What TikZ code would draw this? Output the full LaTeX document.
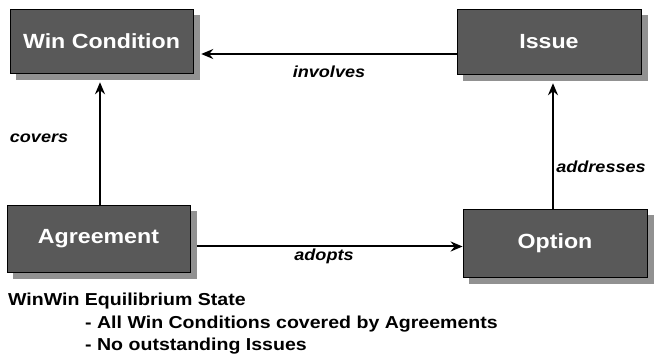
\documentclass[tikz,border=0pt]{standalone}
\usepackage{fontspec}
\newfontfamily\arialx[FakeStretch=1.13]{Liberation Sans}
\usetikzlibrary{arrows.meta}
\definecolor{boxfill}{RGB}{89,89,89}
\definecolor{shadowgray}{RGB}{145,145,145}
\tikzset{
  entity/.style={draw=black, line width=0.8pt, fill=boxfill, minimum width=183pt,
    text=white, font=\arialx\bfseries\fontsize{20.5}{24}\selectfont, inner sep=0pt},
  shadowbox/.style={draw=shadowgray, line width=0.5pt, fill=shadowgray, inner sep=0pt},
  rel/.style={font=\arialx\bfseries\itshape\fontsize{16}{19}\selectfont, inner sep=0pt},
  note/.style={font=\arialx\bfseries\fontsize{17.3}{20}\selectfont, anchor=base west, inner sep=0pt},
  arr/.style={line width=2pt, -{Stealth[length=12pt,width=10pt,inset=4pt]}}
}
\begin{document}
\begin{tikzpicture}[x=1pt,y=-1pt]
\useasboundingbox (0,0) rectangle (665,358);
\node[shadowbox, minimum width=183pt, minimum height=64pt] (winS) at (108,47.5) {};
\node[shadowbox, minimum width=184pt, minimum height=65pt] (issueS) at (555.5,48) {};
\node[shadowbox, minimum width=183pt, minimum height=67pt] (agreeS) at (105,245) {};
\node[shadowbox, minimum width=184pt, minimum height=68pt] (optionS) at (561.5,249.5) {};
\node[entity, minimum height=64pt] (win) at (101.5,41) {Win Condition};
\node[entity, minimum width=184pt, minimum height=65pt] (issue) at (549,41.5) {Issue};
\node[entity, minimum height=67pt] (agree) at (98.5,238.5) {Agreement};
\node[entity, minimum width=184pt, minimum height=68pt] (option) at (555,243) {Option};

\draw[arr, shorten >=1.5pt] ([yshift=-12.5pt]issue.west) -- ([yshift=-12.5pt]issue.west -| winS.east);
\draw[arr, shorten >=2.5pt] ([xshift=1.5pt]agree.north) -- ([xshift=1.5pt]agree.north |- winS.south);
\draw[arr, shorten >=2.5pt] ([xshift=-2pt]option.north) -- ([xshift=-2pt]option.north |- issueS.south);
\draw[arr] ([yshift=-1.5pt]agreeS.east) -- ([yshift=-1.5pt]agreeS.east -| option.west);

\node[rel] (linv) at (329,72) {involves};
\node[rel] (lcov) at (39,138) {covers};
\node[rel] (ladd) at (601,167) {addresses};
\node[rel] (lado) at (324,256) {adopts};

\node[note] (n1) at (8,305.5) {WinWin Equilibrium State};
\node[note] (n2) at (85,328.5) {- All Win Conditions covered by Agreements};
\node[note] (n3) at (85,351) {- No outstanding Issues};
\end{tikzpicture}
\end{document}
